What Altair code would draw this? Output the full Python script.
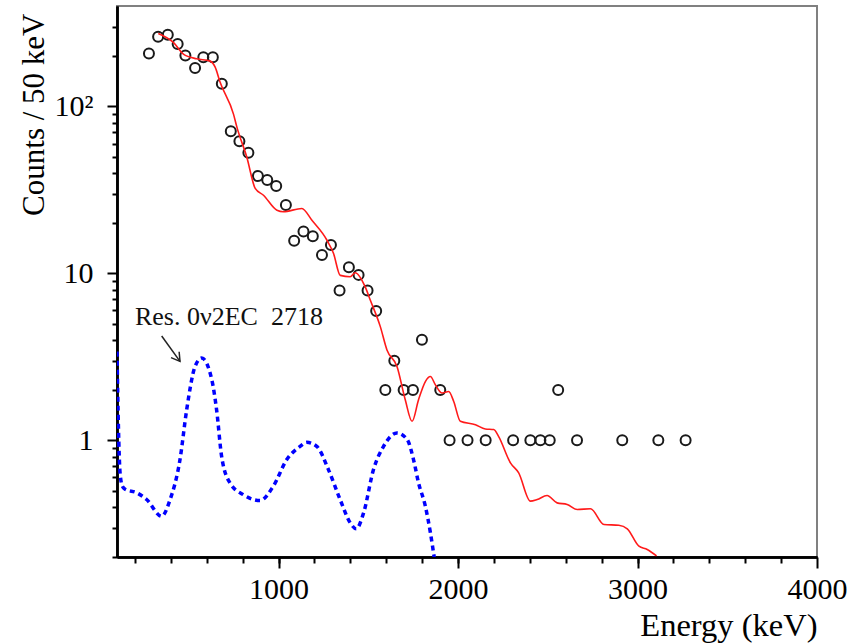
import altair as alt
import pandas as pd

FONT = "Liberation Serif"

# Measured spectrum (open circles)
pts_E = [278, 329, 383, 438, 481, 535, 581, 634, 684, 734, 782, 832, 885, 937, 987,
         1041, 1087, 1139, 1191, 1242, 1292, 1340, 1392, 1446, 1496, 1544, 1595, 1645,
         1697, 1749, 1799, 1901, 1953, 2053, 2154, 2307, 2403, 2459, 2511, 2558, 2663,
         2915, 3116, 3268]
pts_V = [208, 262, 269, 237, 202, 170, 197, 197, 137, 71, 62, 52.8, 38.3, 36.3, 33.4,
         25.7, 15.7, 17.8, 16.7, 12.9, 14.8, 7.9, 10.9, 9.8, 7.9, 5.96, 2, 3,
         2, 2, 4, 2, 1, 1, 1, 1, 1, 1, 1, 2, 1,
         1, 1, 1]

# Background model (red line)
red_E = [330, 414, 470, 544, 619, 647, 674, 749, 768, 823, 870, 916, 991, 1027, 1130,
         1186, 1270, 1306, 1344, 1399, 1427, 1483, 1511, 1567, 1604, 1660, 1706, 1744,
         1780, 1818, 1846, 1874, 1911, 1948, 1976, 2013, 2097, 2152, 2199, 2225, 2292,
         2338, 2403, 2441, 2496, 2552, 2608, 2664, 2738, 2813, 2896, 2943, 3008, 3054, 3106]
red_V = [274, 242, 206, 193, 187, 172, 140, 90, 75.2, 49.8, 32.3, 29.4, 23.9, 23.4, 24.5,
         20.8, 15.8, 13.2, 9.73, 9.55, 10.1, 8.3, 6.93, 4.8, 3.48, 2.77, 1.75, 1.30,
         1.75, 2.25, 2.41, 2.15, 1.92, 1.96, 1.71, 1.30, 1.24, 1.17, 1.16, 1.06, 0.733,
         0.638, 0.432, 0.442, 0.467, 0.422, 0.413, 0.385, 0.389, 0.313, 0.31, 0.295, 0.232, 0.222, 0.203]

# Resonant 0v2EC 2718 excluded effect (blue dashed)
blue_E = [100, 108, 117, 130, 145, 210, 265, 349, 396, 451, 488, 535, 572, 628, 655, 683,
          729, 803, 897, 971, 1046, 1120, 1157, 1213, 1278, 1343, 1399, 1433, 1474, 1529,
          1585, 1660, 1717, 1752, 1780, 1818, 1846, 1870]
blue_V = [3.4, 1.2, 0.64, 0.53, 0.51, 0.485, 0.442, 0.351, 0.442, 0.767, 1.52, 2.77, 3.11,
          2.31, 1.52, 0.80, 0.556, 0.473, 0.436, 0.531, 0.767, 0.92, 0.973, 0.92, 0.668,
          0.442, 0.321, 0.295, 0.368, 0.668, 0.92, 1.107, 1.01, 0.767, 0.556, 0.403, 0.28, 0.19]

# Annotation
ann_text = ["Res. 0\u03bd2EC\u00a0\u00a02718"]
ann_E = [200]
ann_V = [4.92]
arrow_E = [349, 451]
arrow_V = [4.22, 2.97]

x_major = [1000, 2000, 3000, 4000]
x_minor = list(range(200, 4000, 200))
y_major = [1, 10, 100]
y_minor = [0.2, 0.3, 0.4, 0.5, 0.6, 0.7, 0.8, 0.9, 2, 3, 4, 5, 6, 7, 8, 9,
           20, 30, 40, 50, 60, 70, 80, 90, 200, 300]

xs = alt.Scale(domain=[100, 4000], nice=False, zero=False)
ys = alt.Scale(type="log", domain=[0.2, 400], nice=False)

pts = pd.DataFrame({"E": pts_E, "V": pts_V})
red = pd.DataFrame({"E": red_E, "V": red_V})
blue = pd.DataFrame({"E": blue_E, "V": blue_V})
arrow = pd.DataFrame({"E": arrow_E, "V": arrow_V})
head = pd.DataFrame({"E": arrow_E[-1:], "V": arrow_V[-1:]})
ann = pd.DataFrame({"E": ann_E, "V": ann_V, "t": ann_text})

common_axis = dict(domainColor="black", domainWidth=2.5, tickColor="black", tickWidth=2,
                   grid=False, labelFont=FONT, labelColor="black", titleFont=FONT,
                   titleColor="black", titleFontWeight="normal")

x_axis_major = alt.Axis(values=x_major, orient="bottom", tickSize=11, labelFontSize=30,
                        format="d", labelPadding=6, title="Energy (keV)", titleFontSize=32.5,
                        titleAnchor="end", titleAlign="right", titleX=700, titleY=78,
                        titleBaseline="alphabetic", labelFlush=False, **common_axis)
x_axis_minor = alt.Axis(values=x_minor, orient="bottom", tickSize=6, labels=False,
                        title=None, **common_axis)
y_axis_major = alt.Axis(values=y_major, orient="left", tickSize=10, labelFontSize=30,
                        labelExpr="datum.value >= 100 ? '10\u00b2' : datum.value >= 10 ? '10' : '1'",
                        labelPadding=14,
                        title="Counts / 50 keV", titleFontSize=31, titleAngle=-90,
                        titleAlign="right", titleX=-74, titleY=7, titleBaseline="alphabetic",
                        labelFlush=False, **common_axis)
y_axis_minor = alt.Axis(values=y_minor, orient="left", tickSize=5, labels=False,
                        title=None, **common_axis)

points = alt.Chart(pts).mark_point(shape="circle", filled=False, size=100, strokeWidth=2,
                                   color="#1a1a1a", opacity=1).encode(
    x=alt.X("E:Q", scale=xs, axis=x_axis_major),
    y=alt.Y("V:Q", scale=ys, axis=y_axis_major),
)

red_line = alt.Chart(red).mark_line(color="#ff1a1a", strokeWidth=1.6, interpolate="monotone",
                                    clip=True).encode(
    x=alt.X("E:Q", scale=xs, axis=x_axis_minor),
    y=alt.Y("V:Q", scale=ys, axis=y_axis_minor),
)

blue_line = alt.Chart(blue).mark_line(color="#0000ff", strokeWidth=3.5, strokeDash=[5, 4],
                                      interpolate="monotone", clip=True).encode(
    x=alt.X("E:Q", scale=xs, axis=None),
    y=alt.Y("V:Q", scale=ys, axis=None),
)

arrow_line = alt.Chart(arrow).mark_line(color="#222222", strokeWidth=1.5).encode(
    x=alt.X("E:Q", scale=xs, axis=None),
    y=alt.Y("V:Q", scale=ys, axis=None),
)

arrow_head = alt.Chart(head).mark_point(shape="M -1 -0.6 L 0 0 L -1 0.6", filled=False,
                                        size=280, strokeWidth=1.5, color="#222222",
                                        angle=54, opacity=1).encode(
    x=alt.X("E:Q", scale=xs, axis=None),
    y=alt.Y("V:Q", scale=ys, axis=None),
)

label = alt.Chart(ann).mark_text(font=FONT, fontSize=26, align="left",
                                 baseline="alphabetic", color="#111111").encode(
    x=alt.X("E:Q", scale=xs, axis=None),
    y=alt.Y("V:Q", scale=ys, axis=None),
    text="t:N",
)

chart = alt.layer(points, red_line, blue_line, arrow_line, arrow_head, label).resolve_axis(
    x="independent", y="independent"
).properties(
    width=700, height=551,
    autosize=alt.AutoSizeParams(type="none"),
    padding={"left": 117, "top": 6, "right": 34, "bottom": 87},
    background="white",
).configure_view(stroke="#808080", strokeWidth=2)

chart.save("out.html", embed_options={"renderer": "svg", "actions": False})
